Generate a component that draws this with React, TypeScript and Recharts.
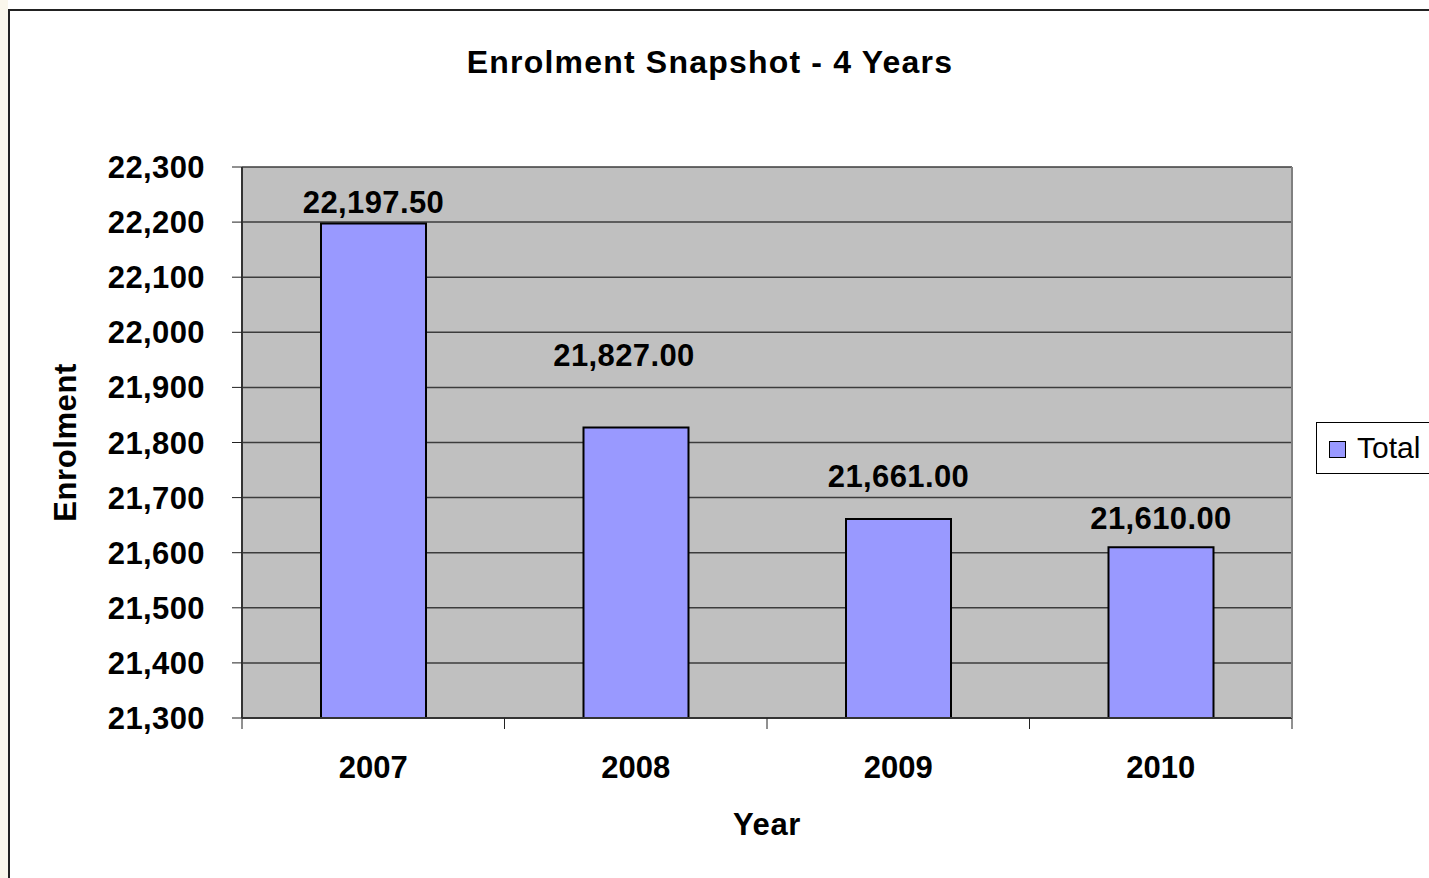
import React from 'react';
import { BarChart, Bar, XAxis, YAxis, CartesianGrid, LabelList } from 'recharts';

const years = ['2007', '2008', '2009', '2010'];
const totals = [22197.5, 21827, 21661, 21610];
const yTicks = [21300, 21400, 21500, 21600, 21700, 21800, 21900, 22000, 22100, 22200, 22300];
const seriesName = 'Total';

// label placement tweaks (Excel had them hand-dragged)
const labelLift = [21, 72, 43, 29];
const labelShift = [0, -12, 0, 0];

const W = 1429;
const H = 878;
const PLOT_LEFT = 242;
const PLOT_RIGHT = 1292;
const PLOT_TOP = 167;
const PLOT_BOTTOM = 718;
const FONT = '"Liberation Sans", Arial, Helvetica, sans-serif';

const data = years.map((y, i) => ({ year: y, total: totals[i] }));
const band = (PLOT_RIGHT - PLOT_LEFT) / years.length;

const fmt = (v: number) => v.toLocaleString('en-US');

const XTick = (props: any) => {
  const { x, index, payload } = props;
  const top = PLOT_BOTTOM;
  return (
    <g>
      <line x1={x - band / 2} x2={x - band / 2} y1={top} y2={top + 11} stroke="#222" strokeWidth={1} />
      {index === years.length - 1 && (
        <line x1={x + band / 2} x2={x + band / 2} y1={top} y2={top + 11} stroke="#222" strokeWidth={1} />
      )}
      <text x={x} y={top + 60} textAnchor="middle" fontFamily={FONT} fontWeight="bold" fontSize={31} fill="#000">
        {payload.value}
      </text>
    </g>
  );
};

const ValueLabel = (props: any) => {
  const { x, y, width, value, index } = props;
  return (
    <text
      x={x + width / 2 + labelShift[index]}
      y={y - labelLift[index]}
      textAnchor="middle"
      dominantBaseline="central"
      fontFamily={FONT}
      fontWeight="bold"
      fontSize={31}
      letterSpacing={0.4}
      fill="#000"
    >
      {Number(value).toLocaleString('en-US', { minimumFractionDigits: 2, maximumFractionDigits: 2 })}
    </text>
  );
};

const LegendBox = () => (
  <div
    style={{
      position: 'absolute',
      left: 1316,
      top: 422,
      border: '1.5px solid #000',
      height: 52,
      width: 130,
      background: '#fff',
      display: 'flex',
      alignItems: 'center',
      boxSizing: 'border-box',
      paddingLeft: 12,
      fontFamily: FONT,
      fontSize: 30,
    }}
  >
    <span style={{ width: 15, height: 15, background: '#9999ff', border: '1.5px solid #000', marginRight: 11, marginTop: 3 }} />
    <span>{seriesName}</span>
  </div>
);

const App: React.FC = () => {
  return (
    <div style={{ position: 'fixed', left: 0, top: 0, width: W, height: H, overflow: 'hidden', background: '#fff' }}>
      <div style={{ position: 'absolute', left: 0, top: 0, width: 8, height: H, background: '#faf7ec' }} />
      <div
        style={{
          position: 'absolute',
          left: 8,
          top: 9,
          width: 1460,
          height: 900,
          border: '2px solid #222',
          background: '#fff',
        }}
      />
      <div
        style={{
          position: 'absolute',
          left: 210,
          width: 1000,
          top: 44,
          textAlign: 'center',
          fontFamily: FONT,
          fontWeight: 'bold',
          fontSize: 32,
          letterSpacing: 1.2,
        }}
      >
        Enrolment Snapshot - 4 Years
      </div>
      <div style={{ position: 'absolute', left: 0, top: 0 }}>
        <BarChart
          width={W}
          height={H}
          data={data}
          barSize={105}
          margin={{ top: PLOT_TOP, left: 20, right: W - PLOT_RIGHT - 1, bottom: H - PLOT_BOTTOM - 60 }}
        >
          <CartesianGrid horizontal vertical={false} stroke="#3c3c3c" strokeWidth={1.5} fill="#c0c0c0" fillOpacity={1} />
          <XAxis
            dataKey="year"
            height={60}
            tickLine={false}
            axisLine={{ stroke: '#333', strokeWidth: 2 }}
            tick={<XTick />}
            interval={0}
            label={(p: any) => {
              const vb = p.viewBox;
              return (
                <text x={vb.x + vb.width / 2} y={835} textAnchor="middle" fontFamily={FONT} fontWeight="bold" fontSize={31} letterSpacing={0.6} fill="#000">
                  Year
                </text>
              );
            }}
          />
          <YAxis
            domain={[21300, 22300]}
            ticks={yTicks}
            interval={0}
            width={PLOT_LEFT - 20}
            tickSize={10}
            tickMargin={27}
            tickFormatter={fmt}
            tickLine={{ stroke: '#222', strokeWidth: 1 }}
            axisLine={{ stroke: '#333', strokeWidth: 2 }}
            tick={{ fill: '#000', fontFamily: FONT, fontWeight: 'bold', fontSize: 31, letterSpacing: 0.4 }}
            label={(p: any) => {
              const vb = p.viewBox;
              const cx = vb.x + 45;
              const cy = vb.y + vb.height / 2;
              return (
                <text
                  x={cx}
                  y={cy}
                  transform={`rotate(-90, ${cx}, ${cy})`}
                  textAnchor="middle"
                  dominantBaseline="central"
                  fontFamily={FONT}
                  fontWeight="bold"
                  fontSize={31}
                  letterSpacing={0.6}
                  fill="#000"
                >
                  Enrolment
                </text>
              );
            }}
          />
          <YAxis
            yAxisId="edge"
            orientation="right"
            width={1}
            domain={[21300, 22300]}
            tick={false}
            tickLine={false}
            axisLine={{ stroke: '#808080', strokeWidth: 2 }}
          />
          <Bar dataKey="total" name={seriesName} fill="#9999ff" stroke="#000" strokeWidth={2} isAnimationActive={false}>
            <LabelList dataKey="total" content={<ValueLabel />} />
          </Bar>
        </BarChart>
      </div>
      <LegendBox />
    </div>
  );
};

export default App;
